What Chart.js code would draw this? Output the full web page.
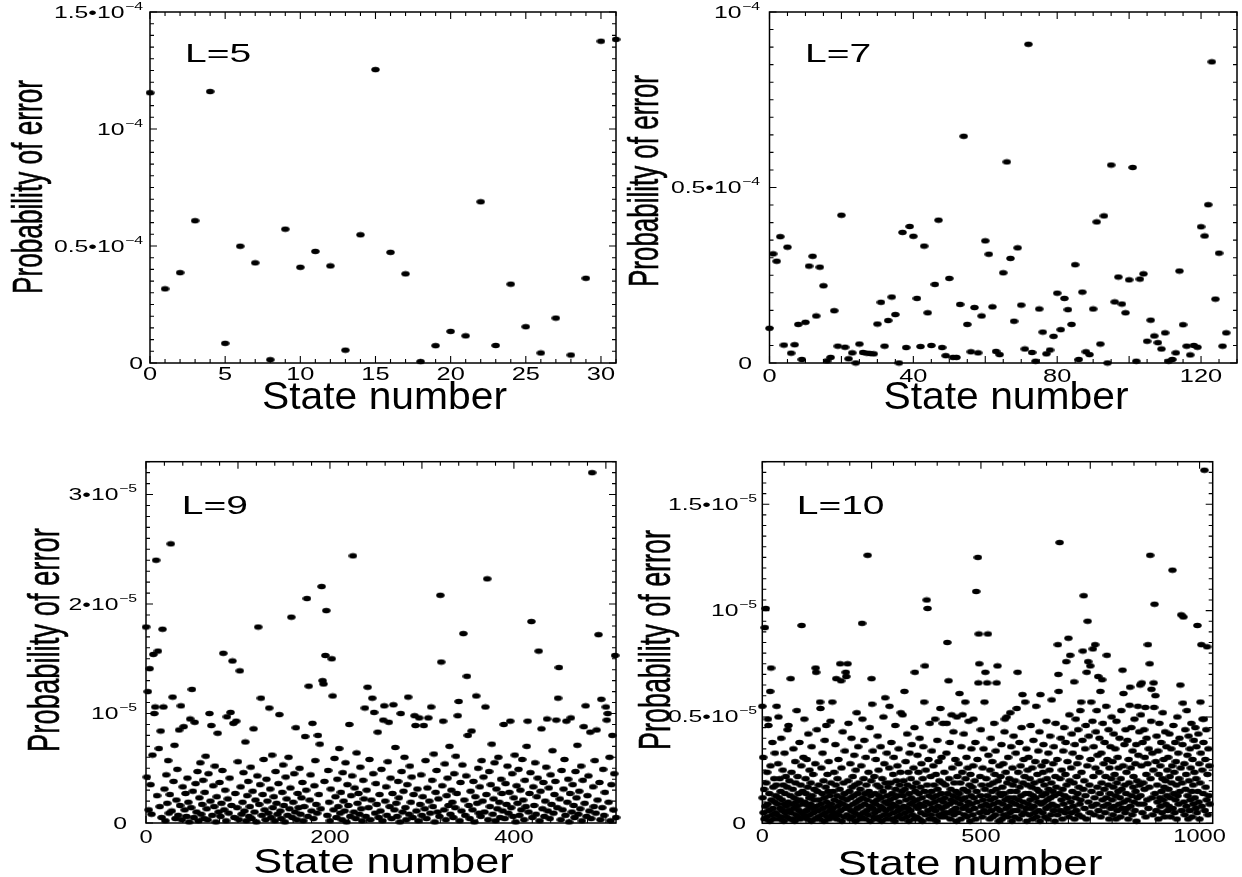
<!DOCTYPE html>
<html><head><meta charset="utf-8">
<script src="https://cdn.jsdelivr.net/npm/chart.js@4.4.1/dist/chart.umd.min.js"></script>
<style>
html,body{margin:0;padding:0;background:#fff;}
#wrap{position:relative;width:1242px;height:877px;overflow:hidden;background:#fff;}
canvas{position:absolute;}
</style></head>
<body><div id="wrap">
<canvas id="cTL" width="621" height="438" style="left:0;top:0;width:621px;height:438px"></canvas>
<canvas id="cTR" width="621" height="438" style="left:621px;top:0;width:621px;height:438px"></canvas>
<canvas id="cBL" width="621" height="439" style="left:0;top:438px;width:621px;height:439px"></canvas>
<canvas id="cBR" width="621" height="439" style="left:621px;top:438px;width:621px;height:439px"></canvas>
</div>
<script>
// ---------------- DATA ----------------
// Probability of error per state number. L=5 and L=7 in units of 1e-4, L=9 and L=10 in units of 1e-5.
const prob5 = [1.155,0.317,0.386,0.608,1.160,0.084,0.499,0.428,0.014,0.572,0.409,0.477,0.415,0.055,0.548,1.254,
0.473,0.381,0.006,0.074,0.135,0.116,0.689,0.075,0.337,0.155,0.043,0.192,0.034,0.362,1.375,1.383];

const prob7 = [0.099,0.311,0.290,0.360,0.051,0.330,0.028,0.052,0.110,0.010,0.116,0.276,0.304,0.134,0.273,0.220,
0.006,0.016,0.149,0.048,0.421,0.045,0.012,0.029,0.000,0.054,0.030,0.028,0.027,0.026,0.111,0.173,
0.048,0.121,0.188,0.138,0.000,0.372,0.044,0.389,0.361,0.184,0.047,0.333,0.143,0.050,0.224,0.407,
0.044,0.021,0.241,0.016,0.016,0.167,0.646,0.110,0.032,0.158,0.029,0.134,0.348,0.310,0.160,0.033,
0.024,0.257,0.573,0.298,0.119,0.328,0.165,0.040,0.908,0.030,0.005,0.154,0.088,0.026,0.037,0.076,
0.199,0.095,0.184,0.152,0.110,0.280,0.010,0.202,0.032,0.024,0.154,0.402,0.054,0.419,0.000,0.564,
0.174,0.245,0.168,0.143,0.237,0.557,0.005,0.239,0.254,0.062,0.122,0.077,0.058,0.040,0.086,0.005,
0.010,0.029,0.262,0.109,0.048,0.023,0.050,0.045,0.388,0.362,0.451,0.858,0.182,0.313,0.048,0.086];

const prob9 = [
1.79,0.42,1.20,0.12,1.41,0.35,0.08,0.62,1.54,1.00,1.06,2.40,0.25,1.57,0.68,0.15,
0.84,0.05,1.77,1.06,0.31,0.02,0.44,0.18,0.57,0.09,0.26,2.55,0.11,1.15,0.38,0.71,
0.04,0.21,0.49,0.07,0.85,0.16,1.07,0.03,0.33,0.88,0.12,0.27,0.06,0.41,0.19,0.01,
0.95,0.14,1.22,0.29,0.05,0.92,0.36,0.10,0.47,0.02,0.23,0.55,0.08,0.17,0.39,0.04,
0.28,0.61,0.13,0.03,0.45,1.00,0.20,0.89,0.07,0.34,0.15,0.52,0.01,0.24,0.82,0.10,
0.37,0.06,0.18,0.48,1.55,0.12,0.30,0.02,0.97,0.22,0.09,0.41,1.01,0.16,1.48,0.91,
0.05,0.27,0.93,0.14,0.56,0.03,1.39,0.33,0.08,0.19,0.46,0.11,0.74,0.02,0.25,0.38,
0.06,0.15,0.51,0.04,0.29,0.86,0.10,0.21,0.01,0.43,1.79,0.17,0.35,1.14,0.07,0.26,
0.58,0.12,0.03,0.40,0.20,0.09,1.05,0.31,0.05,0.62,0.14,0.24,0.02,0.47,0.18,0.08,
0.36,0.99,0.11,0.04,0.28,0.53,0.16,0.01,0.42,0.22,0.07,0.60,0.13,0.32,1.88,0.05,
0.19,0.45,0.10,0.87,0.03,0.27,0.14,0.50,0.08,0.23,0.37,0.02,0.15,0.79,0.30,2.05,
0.06,1.25,0.21,0.44,0.11,0.91,0.04,0.34,0.57,0.17,0.09,0.80,0.26,0.72,0.13,2.16,
1.30,1.27,0.38,1.53,1.94,0.07,0.48,0.19,0.02,0.31,1.50,1.16,0.12,0.59,0.24,0.05,
0.40,0.15,0.68,0.09,0.28,0.03,0.46,0.20,0.11,0.55,0.01,0.35,0.16,0.90,0.06,0.25,
0.43,2.44,0.10,0.32,0.04,0.64,0.18,0.27,0.08,0.51,0.13,0.02,0.39,0.22,1.05,0.06,
0.30,1.24,0.14,0.58,0.03,0.21,1.14,0.45,1.01,0.09,0.36,0.17,0.83,0.05,0.26,0.11,
0.49,0.02,0.94,1.07,0.20,0.33,0.07,0.56,0.92,0.15,0.41,0.04,0.27,1.08,0.12,0.69,
0.18,0.06,0.38,0.23,0.01,1.00,0.47,0.10,0.29,0.60,0.14,0.03,0.35,1.15,0.08,0.52,
0.19,0.42,0.05,0.26,0.98,0.89,0.11,0.31,0.02,0.96,0.17,0.44,0.07,0.24,0.89,0.13,
0.57,0.04,0.32,0.96,0.20,0.09,1.06,0.39,0.15,0.63,0.01,0.28,0.48,0.10,0.22,0.06,
2.08,1.47,0.34,0.93,0.12,0.54,0.03,0.25,0.41,0.16,0.70,0.08,0.30,0.19,0.05,0.45,
0.14,0.61,0.27,0.98,1.11,0.02,0.37,0.11,0.53,1.73,0.21,0.07,0.43,1.34,0.80,0.16,
0.04,0.29,0.84,0.12,0.38,0.01,0.24,1.16,0.18,0.50,0.09,0.33,0.06,0.57,0.20,0.42,
0.10,1.06,0.26,2.23,0.03,0.47,0.15,0.35,0.72,0.08,0.22,0.55,0.02,0.31,0.13,0.60,
0.19,0.05,0.40,0.27,0.11,0.90,0.04,0.36,0.17,0.52,0.09,0.28,0.93,0.14,0.45,0.06,
0.23,0.62,0.01,0.34,0.18,0.49,0.07,0.30,0.12,0.58,0.21,0.03,0.39,0.15,0.70,0.93,
0.10,0.27,0.46,1.84,0.05,0.33,0.16,0.55,0.08,0.24,0.41,1.57,0.02,0.29,0.86,0.13,
0.37,0.06,0.20,0.51,0.95,0.11,0.32,0.04,0.44,0.17,0.66,0.09,0.26,0.38,0.94,0.14,
1.14,1.42,0.22,0.03,0.48,0.12,0.31,0.58,0.07,0.93,0.19,0.40,0.01,0.27,0.96,0.10,
0.35,0.16,0.05,0.47,0.23,0.71,0.08,0.29,0.13,0.52,0.02,0.39,0.88,0.18,1.07,0.06,
0.25,0.43,0.11,0.83,0.04,3.20,0.33,0.15,0.57,0.09,0.85,0.21,1.72,0.37,0.03,1.13,
0.14,0.49,0.07,0.28,1.06,0.94,1.00,0.19,0.60,0.02,0.35,0.80,0.12,0.45,1.53,0.05];

const prob10 = [
0.55,0.12,0.31,0.05,0.16,0.02,0.92,0.08,1.01,0.19,0.03,0.24,0.09,0.49,0.46,0.06,0.14,0.01,0.62,0.27,0.73,0.11,0.04,0.38,0.07,0.17,0.02,0.21,0.10,0.33,0.05,0.13,
0.18,0.55,0.04,0.09,0.28,0.50,0.12,0.02,0.21,0.07,0.15,0.40,0.03,0.11,0.06,0.25,0.18,0.01,0.09,0.33,0.14,0.05,0.22,0.08,0.03,0.17,0.44,0.10,0.46,0.06,0.20,0.02,
0.13,0.68,0.05,0.24,0.09,0.02,0.16,0.35,0.07,0.12,0.01,0.29,0.19,0.04,0.10,0.53,0.08,0.22,0.03,0.14,0.06,0.38,0.11,0.02,0.18,0.27,0.93,0.05,0.15,0.09,0.31,0.04,
0.49,0.10,0.03,0.21,0.14,0.06,0.30,0.02,0.17,0.42,0.08,0.12,0.25,0.04,0.09,0.19,0.01,0.36,0.13,0.07,0.23,0.05,0.11,0.16,0.02,0.28,0.73,0.71,0.08,0.44,0.15,0.03,
0.06,0.18,0.11,0.02,0.57,0.54,0.09,0.26,0.04,0.14,0.33,0.07,0.20,0.01,0.12,0.39,0.05,0.17,0.46,0.10,0.03,0.23,0.08,0.15,0.29,0.02,0.13,0.06,0.48,0.19,0.09,0.04,
0.57,0.07,0.15,0.03,0.24,0.11,0.05,0.37,0.18,0.68,0.02,0.13,0.21,0.08,0.30,0.04,0.10,0.16,0.75,0.06,0.67,0.26,0.01,0.12,0.43,0.09,0.19,0.03,0.14,0.34,0.07,0.71,
0.69,0.11,0.04,0.75,0.20,0.47,0.08,0.15,0.02,0.28,0.12,0.06,0.40,0.17,0.03,0.22,0.09,0.13,0.32,0.05,0.18,0.01,0.25,0.10,0.52,0.07,0.14,0.36,0.04,0.19,0.11,0.02,
0.16,0.08,0.27,0.03,0.94,0.49,0.12,0.05,0.21,0.39,0.09,0.14,0.02,0.31,0.18,0.06,0.11,1.26,0.04,0.24,0.15,0.08,0.45,0.01,0.13,0.20,0.68,0.56,0.07,0.34,0.10,0.03,
0.22,0.05,0.14,0.09,0.30,0.02,0.18,0.11,0.41,0.06,0.25,0.13,0.03,0.17,0.08,0.36,0.12,0.01,0.21,0.07,0.15,0.50,0.04,0.28,0.10,0.59,0.19,0.06,0.02,0.33,0.13,0.09,
0.17,0.04,0.26,0.55,0.11,0.07,0.19,0.38,0.02,0.14,0.09,0.23,0.05,0.31,0.12,0.01,0.46,0.16,0.08,0.20,0.03,0.27,0.13,0.06,0.35,0.10,0.18,0.04,0.24,0.52,0.07,0.15,
0.02,0.51,0.13,0.20,0.08,0.62,0.16,0.05,0.29,0.11,0.03,0.42,0.18,0.07,0.24,0.01,0.14,0.33,0.09,0.06,0.21,0.12,0.37,0.04,0.17,0.10,0.26,0.02,0.45,0.71,0.15,0.08,
0.19,0.03,0.11,0.32,0.07,0.24,0.14,0.02,0.40,0.09,0.17,0.05,0.28,0.12,0.01,0.21,0.36,0.08,0.57,0.15,0.74,0.04,0.25,0.10,1.05,0.18,1.01,0.06,0.30,0.13,0.02,0.47,
0.09,0.22,0.04,0.15,0.34,0.07,0.12,0.27,0.02,0.18,0.10,0.49,0.06,0.23,0.13,0.01,0.39,0.16,0.08,0.29,0.04,0.20,0.11,0.54,0.03,0.14,0.31,0.07,0.19,0.47,0.10,0.05,
0.24,0.12,0.03,0.18,0.08,0.33,0.47,0.85,0.14,0.05,0.67,0.21,0.09,0.38,0.02,0.16,0.11,0.51,0.26,0.06,0.13,0.43,0.04,0.19,0.10,0.30,0.07,0.15,0.01,0.50,0.22,0.12,
0.05,0.28,0.14,0.61,0.09,0.19,0.02,0.36,0.11,0.24,0.51,0.07,0.16,0.42,0.04,0.12,0.57,0.21,0.08,0.31,0.03,0.15,0.26,0.10,0.48,0.06,0.18,0.01,0.23,0.13,0.35,0.09,
0.17,0.04,0.27,0.49,0.12,0.07,0.20,0.38,0.02,1.09,0.15,0.10,0.30,1.25,0.66,0.89,0.75,0.05,0.22,0.13,0.44,0.08,0.18,0.03,0.26,0.11,0.35,0.06,0.57,0.16,0.71,0.09,
0.21,0.05,0.66,0.13,0.89,0.32,0.08,0.18,0.02,0.25,0.11,0.40,0.06,0.15,0.29,0.03,0.19,0.09,0.47,0.12,0.23,0.04,0.34,0.16,0.66,0.07,0.74,0.20,0.10,0.01,0.27,0.14,
0.06,0.22,0.13,0.37,0.02,0.17,0.09,0.28,0.04,0.14,0.43,0.49,0.11,0.24,0.07,0.50,0.19,0.03,0.31,0.12,0.08,0.21,0.05,0.52,0.15,0.36,0.10,0.01,0.26,0.18,0.06,0.41,
0.12,0.03,0.20,0.09,0.33,0.15,0.54,0.06,0.71,0.24,0.11,0.02,0.38,0.17,0.08,0.27,0.13,0.45,0.04,0.605,0.19,0.10,0.30,0.05,0.22,0.57,0.14,0.07,0.35,0.01,0.18,0.25,
0.09,0.31,0.14,0.04,0.21,0.11,0.46,0.07,0.17,0.26,0.02,0.13,0.39,0.08,0.19,0.05,0.29,0.12,0.55,0.03,0.16,0.23,0.10,0.34,0.06,0.15,0.43,0.01,0.605,0.20,0.09,0.27,
0.13,0.05,0.24,0.37,0.10,0.18,0.03,0.29,0.14,0.07,0.48,0.21,0.11,0.02,0.33,0.16,0.08,0.25,0.41,0.12,0.04,0.19,0.58,0.09,0.15,0.28,0.06,0.36,0.13,0.01,0.22,0.47,
0.17,0.08,0.30,0.04,0.84,0.70,0.62,0.14,1.32,0.21,0.06,0.40,0.11,0.25,0.02,0.16,0.34,0.09,0.45,0.13,0.05,0.23,0.38,0.76,0.18,0.07,0.29,0.12,0.87,0.03,0.51,0.20,
0.79,0.10,0.26,0.05,0.42,0.15,0.33,0.08,0.19,0.665,0.02,0.37,0.12,0.49,0.06,0.22,0.28,0.14,0.44,0.04,0.17,0.31,0.09,0.53,0.11,0.57,0.24,0.03,0.39,0.81,0.16,1.07,
0.20,0.07,0.35,0.13,0.46,0.02,0.71,0.27,0.95,0.76,0.10,0.41,0.18,0.05,0.74,0.30,0.57,0.15,0.08,0.48,0.82,0.22,0.36,0.04,0.12,0.84,0.26,0.43,0.09,0.53,0.17,0.32,
0.69,0.06,0.24,0.40,0.14,0.62,0.03,0.33,0.19,0.675,0.11,0.47,0.08,0.28,0.16,0.38,0.05,0.22,0.55,0.12,0.79,0.30,0.09,0.18,0.44,0.02,0.26,0.14,0.36,0.07,0.21,0.50,
0.11,0.29,0.04,0.17,0.42,0.08,0.23,0.35,0.13,0.02,0.48,0.19,0.06,0.31,0.15,0.26,0.09,0.40,0.12,0.03,0.21,0.53,0.16,0.07,0.72,0.27,0.61,0.10,0.37,0.18,0.05,0.44,
0.14,0.24,0.07,0.39,0.11,0.02,0.30,0.19,0.555,0.64,0.08,0.26,0.45,0.13,0.04,0.34,0.17,0.22,0.10,0.49,0.06,0.28,0.15,0.37,0.01,0.20,0.12,0.55,0.32,0.09,0.43,0.18,
0.65,0.13,0.51,0.27,0.66,0.05,0.38,0.19,0.09,0.44,0.16,0.31,0.545,0.03,0.23,0.40,0.11,0.28,0.84,0.07,0.35,0.17,0.75,1.26,0.21,0.48,0.63,0.12,0.33,0.04,0.25,0.66,
0.545,1.03,0.14,0.60,0.29,0.06,0.41,0.18,0.10,0.34,0.02,0.23,0.47,0.12,0.27,0.08,0.38,0.15,0.05,0.21,0.52,0.11,0.30,0.17,0.03,0.43,0.20,0.09,0.36,0.13,0.25,0.06,
0.31,0.16,0.08,0.42,0.22,0.12,0.03,0.35,0.19,0.27,1.19,0.07,0.46,0.14,0.24,0.05,0.38,0.11,0.29,0.18,0.02,0.50,0.13,0.33,0.09,0.21,0.40,0.15,0.65,0.26,0.98,0.06,
0.19,0.37,0.565,0.97,0.10,0.28,0.04,0.44,0.16,0.23,0.08,0.53,0.32,0.13,0.02,0.41,0.20,0.06,0.35,0.11,0.26,0.47,0.15,0.03,0.30,0.18,0.09,0.39,0.24,0.12,0.45,0.07,
0.21,0.36,0.05,0.93,0.15,0.42,0.10,0.28,0.02,0.19,0.57,0.33,0.84,0.08,0.25,0.49,0.14,0.38,0.49,1.66,0.06,0.30,0.17,0.44,0.11,0.83,0.23,0.04,0.35,0.13,0.27,0.09];

// Tick values and labels
const xTicks5 = [0,5,10,15,20,25,30];
const xTicks7 = [0,40,80,120];
const xTicks9 = [0,200,400];
const xTicks10 = [0,500,1000];
const yTicks5 = [0,0.5,1,1.5];
const yTickText5 = ['0','0.5\u202210^\u22124','10^\u22124','1.5\u202210^\u22124'];
const yTicks7 = [0,0.5,1];
const yTickText7 = ['0','0.5\u202210^\u22124','10^\u22124'];
const yTicks9 = [0,1,2,3];
const yTickText9 = ['0','10^\u22125','2\u202210^\u22125','3\u202210^\u22125'];
const yTicks10 = [0,0.5,1,1.5];
const yTickText10 = ['0','0.5\u202210^\u22125','10^\u22125','1.5\u202210^\u22125'];
const panelLabels = ['L=5','L=7','L=9','L=10'];
const xTitle = 'State number';
const yTitle = 'Probability of error';

// ---------------- LAYOUT / STYLE ----------------
const FONT = '"Liberation Sans", Arial, Helvetica, sans-serif';
const NARROW = '"Liberation Sans Narrow", "Arial Narrow", "Liberation Sans", Arial, sans-serif';
const panels = [
 {id:'cTL', w:621, h:438, area:{l:150, r:616, t:12, b:363}, xmax:31, ymax:1.5,
  data:prob5, xTicks:xTicks5, yTicks:yTicks5, yText:yTickText5, label:panelLabels[0],
  minorX:1, majorXEvery:5, minorY:0.05, majorYEvery:10,
  labelPos:[185,62], xTitlePos:[384.5,409], xTitleFont:[38.5,1.06],
  yTitlePos:[42,187], yTitleFont:[42,214], xTickBase:380, xTickFont:[17.5,1.45],
  yTickRight:143, zeroShift:0},
 {id:'cTR', w:621, h:438, area:{l:148.5, r:619.5, t:12, b:363}, xmax:130, ymax:1.0,
  data:prob7, xTicks:xTicks7, yTicks:yTicks7, yText:yTickText7, label:panelLabels[1],
  minorX:5, majorXEvery:4, minorY:0.05, majorYEvery:10,
  labelPos:[184,62], xTitlePos:[385,409], xTitleFont:[38.5,1.06],
  yTitlePos:[37,181], yTitleFont:[42,212], xTickBase:382, xTickFont:[17.5,1.45],
  yTickRight:139, zeroShift:8},
 {id:'cBL', w:621, h:439, area:{l:146, r:617.3, t:23.7, b:385}, xmax:511, ymax:3.3,
  data:prob9, xTicks:xTicks9, yTicks:yTicks9, yText:yTickText9, label:panelLabels[2],
  minorX:20, majorXEvery:5, minorY:0.1, majorYEvery:10,
  labelPos:[181.7,76], xTitlePos:[383.5,435], xTitleFont:[35,1.24],
  yTitlePos:[59,202], yTitleFont:[44,224], xTickBase:405, xTickFont:[17.5,1.35],
  yTickRight:137, zeroShift:10},
 {id:'cBR', w:621, h:439, area:{l:141.3, r:591.7, t:23.7, b:385.3}, xmax:1030, ymax:1.7,
  data:prob10, xTicks:xTicks10, yTicks:yTicks10, yText:yTickText10, label:panelLabels[3],
  minorX:50, majorXEvery:5, minorY:0.05, majorYEvery:10,
  labelPos:[175.7,76], xTitlePos:[349,437], xTitleFont:[35,1.26],
  yTitlePos:[49,202], yTitleFont:[44,220], xTickBase:404, xTickFont:[17.5,1.35],
  yTickRight:136, zeroShift:11}
];

function textW(ctx, text, size, sx){
  ctx.save(); ctx.font = size + 'px ' + FONT;
  const w = ctx.measureText(text).width * sx; ctx.restore(); return w;
}
function stretchText(ctx, text, x, y, size, sx, align){
  ctx.save();
  ctx.font = size + 'px ' + FONT;
  ctx.textAlign = 'left'; ctx.textBaseline = 'alphabetic';
  const w = ctx.measureText(text).width * sx;
  let x0 = x;
  if (align === 'center') x0 = x - w / 2; else if (align === 'right') x0 = x - w;
  ctx.translate(x0, y); ctx.scale(sx, 1);
  ctx.fillStyle = '#000';
  ctx.fillText(text, 0, 0);
  ctx.restore();
  return w;
}

function makeDot(){
  const c = document.createElement('canvas');
  c.width = 9; c.height = 7;
  const g = c.getContext('2d');
  g.fillStyle = '#000';
  g.beginPath(); g.ellipse(4.5, 3.5, 4.2, 2.8, 0, 0, Math.PI * 2); g.fill();
  return c;
}
const dot = makeDot();

function decorPlugin(P){
  return {
    id: 'decor_' + P.id,
    beforeDatasetsDraw(chart){
      const ctx = chart.ctx, a = chart.chartArea, xs = chart.scales.x, ys = chart.scales.y;
      ctx.save();
      ctx.strokeStyle = '#000'; ctx.lineWidth = 1.1;
      ctx.beginPath();
      const nX = Math.floor(P.xmax / P.minorX + 1e-9);
      for (let k = 0; k <= nX; k++){
        const px = xs.getPixelForValue(k * P.minorX);
        const len = (k % P.majorXEvery === 0) ? 7 : 4;
        ctx.moveTo(px, a.bottom); ctx.lineTo(px, a.bottom - len);
        ctx.moveTo(px, a.top); ctx.lineTo(px, a.top + len);
      }
      const nY = Math.floor(P.ymax / P.minorY + 1e-9);
      for (let k = 0; k <= nY; k++){
        const py = ys.getPixelForValue(k * P.minorY);
        const len = (k % P.majorYEvery === 0) ? 7 : 4;
        ctx.moveTo(a.left, py); ctx.lineTo(a.left + len, py);
        ctx.moveTo(a.right, py); ctx.lineTo(a.right - len, py);
      }
      ctx.stroke();
      ctx.lineWidth = 1.5;
      ctx.strokeRect(a.left, a.top, a.right - a.left, a.bottom - a.top);
      ctx.restore();
    },
    afterDraw(chart){
      const ctx = chart.ctx, xs = chart.scales.x, ys = chart.scales.y;
      // x tick labels
      P.xTicks.forEach(v => {
        stretchText(ctx, String(v), xs.getPixelForValue(v), P.xTickBase, P.xTickFont[0], P.xTickFont[1], 'center');
      });
      // y tick labels with superscript exponents
      const mainSize = 16.5, supSize = 10.5, sx = 1.5;
      P.yTicks.forEach((v, i) => {
        const t = P.yText[i];
        const py = ys.getPixelForValue(v);
        if (t.indexOf('^') < 0){
          stretchText(ctx, t, P.yTickRight - P.zeroShift, py + 5.5, mainSize, sx, 'right');
          return;
        }
        const [main, exp] = t.split('^');
        const wm = textW(ctx, main, mainSize, sx);
        const we = textW(ctx, exp, supSize, sx);
        const x0 = P.yTickRight - we - wm - 0.5;
        stretchText(ctx, main, x0, py + 5.5, mainSize, sx, 'left');
        stretchText(ctx, exp, x0 + wm + 0.5, py - 2.5, supSize, sx, 'left');
      });
      // panel label
      stretchText(ctx, P.label, P.labelPos[0], P.labelPos[1], 26, 1.5, 'left');
      // x title
      stretchText(ctx, xTitle, P.xTitlePos[0], P.xTitlePos[1], P.xTitleFont[0], P.xTitleFont[1], 'center');
      // y title (rotated, condensed to the measured length)
      ctx.save();
      ctx.font = P.yTitleFont[0] + 'px ' + NARROW;
      const natural = ctx.measureText(yTitle).width;
      const k = P.yTitleFont[1] / natural;
      ctx.translate(P.yTitlePos[0], P.yTitlePos[1]);
      ctx.rotate(-Math.PI / 2);
      ctx.scale(k, 1);
      ctx.textAlign = 'center'; ctx.textBaseline = 'alphabetic';
      ctx.fillStyle = '#000'; ctx.strokeStyle = '#000'; ctx.lineWidth = 0.6;
      ctx.fillText(yTitle, 0, 0);
      ctx.strokeText(yTitle, 0, 0);
      ctx.restore();
    }
  };
}

panels.forEach(P => {
  const pts = P.data.map((v, i) => ({x: i, y: v}));
  new Chart(document.getElementById(P.id), {
    type: 'scatter',
    data: {datasets: [{data: pts, pointStyle: dot, pointRadius: 4, pointHoverRadius: 4,
      showLine: false, clip: false, backgroundColor: '#000', borderColor: '#000'}]},
    options: {
      responsive: false, animation: false, events: [],
      layout: {padding: {top: P.area.t, right: P.w - P.area.r, left: 0, bottom: 0}},
      plugins: {legend: {display: false}, tooltip: {enabled: false}, title: {display: false}},
      scales: {
        x: {type: 'linear', min: 0, max: P.xmax, ticks: {display: false}, grid: {display: false},
            border: {display: false}, title: {display: false},
            afterFit(s){ s.height = P.h - P.area.b; }},
        y: {type: 'linear', min: 0, max: P.ymax, ticks: {display: false}, grid: {display: false},
            border: {display: false}, title: {display: false},
            afterFit(s){ s.width = P.area.l; }}
      }
    },
    plugins: [decorPlugin(P)]
  });
});
</script>
</body></html>
